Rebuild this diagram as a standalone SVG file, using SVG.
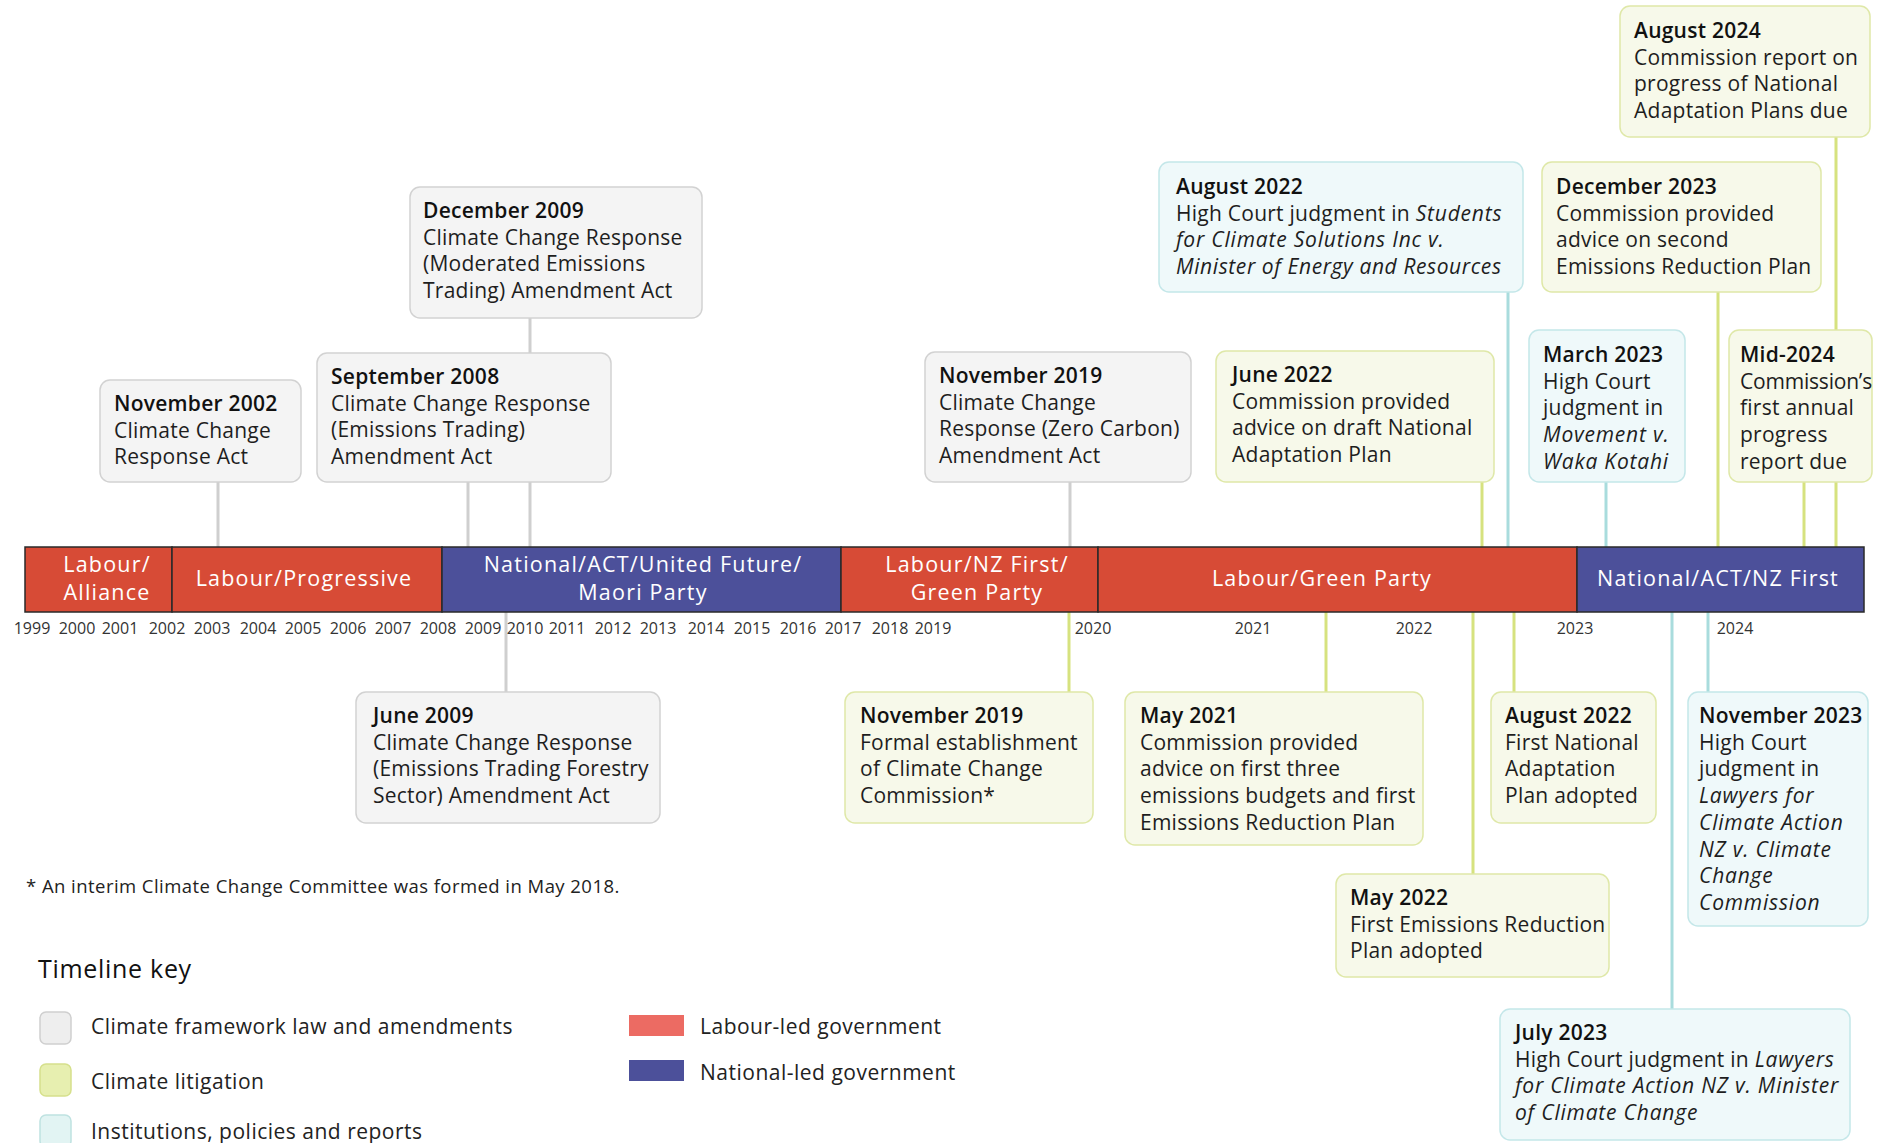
<svg xmlns="http://www.w3.org/2000/svg" width="1881" height="1143" viewBox="0 0 1881 1143">
<style>
.bg{fill:#ffffff}
.bx-g{fill:#f4f4f4;stroke:#d2d2d2;stroke-width:1.5}
.bx-l{fill:#f7f9ea;stroke:#dfe8a8;stroke-width:1.5}
.bx-c{fill:#eff9fa;stroke:#c4e7e9;stroke-width:1.5}
.t{font-family:"Open Sans","Liberation Sans",sans-serif;font-size:21px;letter-spacing:0.25px;fill:#1e1e1e}
.h{font-weight:600;fill:#111}
.i{font-style:italic;letter-spacing:0.8px}
.cn{stroke-width:3;fill:none}
.cg{stroke:#cfcfcf}
.cl{stroke:#d6e27f}
.cc{stroke:#a9dcdd}
.red{fill:#d74b36;stroke:#2a2a2a;stroke-width:1.5}
.blue{fill:#4c509a;stroke:#2a2a2a;stroke-width:1.5}
.bt{font-family:"Open Sans","Liberation Sans",sans-serif;font-size:21.5px;font-weight:500;fill:#ffffff;text-anchor:middle;letter-spacing:1.2px}
.yr{font-family:"Open Sans","Liberation Sans",sans-serif;font-size:16px;fill:#333;text-anchor:middle}
.lg{font-family:"Open Sans","Liberation Sans",sans-serif;font-size:21px;letter-spacing:0.5px;fill:#222}
</style>
<rect class="bg" x="0" y="0" width="1881" height="1143"/>

<g id="connectors">
<line class="cn cg" x1="218" y1="482" x2="218" y2="550"/>
<line class="cn cg" x1="468" y1="482" x2="468" y2="550"/>
<line class="cn cg" x1="530" y1="318" x2="530" y2="550"/>
<line class="cn cg" x1="1070" y1="482" x2="1070" y2="550"/>
<line class="cn cl" x1="1482" y1="482" x2="1482" y2="550"/>
<line class="cn cc" x1="1508" y1="292" x2="1508" y2="550"/>
<line class="cn cc" x1="1606" y1="482" x2="1606" y2="550"/>
<line class="cn cl" x1="1718" y1="292" x2="1718" y2="550"/>
<line class="cn cl" x1="1804" y1="482" x2="1804" y2="550"/>
<line class="cn cl" x1="1836" y1="137" x2="1836" y2="550"/>
<line class="cn cg" x1="506" y1="610" x2="506" y2="692"/>
<line class="cn cl" x1="1069" y1="610" x2="1069" y2="692"/>
<line class="cn cl" x1="1326" y1="610" x2="1326" y2="692"/>
<line class="cn cl" x1="1473" y1="610" x2="1473" y2="874"/>
<line class="cn cl" x1="1514" y1="610" x2="1514" y2="692"/>
<line class="cn cc" x1="1672" y1="610" x2="1672" y2="1009"/>
<line class="cn cc" x1="1708" y1="610" x2="1708" y2="692"/>
</g>

<g id="government-bar">
<rect class="red" x="25" y="547" width="147" height="65"/>
<rect class="red" x="172" y="547" width="270" height="65"/>
<rect class="blue" x="442" y="547" width="399" height="65"/>
<rect class="red" x="841" y="547" width="257" height="65"/>
<rect class="red" x="1098" y="547" width="479" height="65"/>
<rect class="blue" x="1577" y="547" width="287" height="65"/>
<text class="bt" x="107" y="572">Labour/</text>
<text class="bt" x="107" y="600">Alliance</text>
<text class="bt" x="304" y="586">Labour/Progressive</text>
<text class="bt" x="643" y="572">National/ACT/United Future/</text>
<text class="bt" x="643" y="600">Maori Party</text>
<text class="bt" x="977" y="572">Labour/NZ First/</text>
<text class="bt" x="977" y="600">Green Party</text>
<text class="bt" x="1322" y="586">Labour/Green Party</text>
<text class="bt" x="1718" y="586">National/ACT/NZ First</text>
</g>

<g id="years">
<text class="yr" x="32" y="634">1999</text>
<text class="yr" x="77" y="634">2000</text>
<text class="yr" x="120" y="634">2001</text>
<text class="yr" x="167" y="634">2002</text>
<text class="yr" x="212" y="634">2003</text>
<text class="yr" x="258" y="634">2004</text>
<text class="yr" x="303" y="634">2005</text>
<text class="yr" x="348" y="634">2006</text>
<text class="yr" x="393" y="634">2007</text>
<text class="yr" x="438" y="634">2008</text>
<text class="yr" x="483" y="634">2009</text>
<text class="yr" x="525" y="634">2010</text>
<text class="yr" x="567" y="634">2011</text>
<text class="yr" x="613" y="634">2012</text>
<text class="yr" x="658" y="634">2013</text>
<text class="yr" x="706" y="634">2014</text>
<text class="yr" x="752" y="634">2015</text>
<text class="yr" x="798" y="634">2016</text>
<text class="yr" x="843" y="634">2017</text>
<text class="yr" x="890" y="634">2018</text>
<text class="yr" x="933" y="634">2019</text>
<text class="yr" x="1093" y="634">2020</text>
<text class="yr" x="1253" y="634">2021</text>
<text class="yr" x="1414" y="634">2022</text>
<text class="yr" x="1575" y="634">2023</text>
<text class="yr" x="1735" y="634">2024</text>
</g>

<g id="nov2002">
<rect class="bx-g" x="100" y="380" width="201" height="102" rx="10"/>
<text class="t" x="114" y="411"><tspan class="h">November 2002</tspan><tspan x="114" dy="26.7">Climate Change</tspan><tspan x="114" dy="26.7">Response Act</tspan></text>
</g>
<g id="sep2008">
<rect class="bx-g" x="317" y="353" width="294" height="129" rx="10"/>
<text class="t" x="331" y="384"><tspan class="h">September 2008</tspan><tspan x="331" dy="26.7">Climate Change Response</tspan><tspan x="331" dy="26.7">(Emissions Trading)</tspan><tspan x="331" dy="26.7">Amendment Act</tspan></text>
</g>
<g id="dec2009">
<rect class="bx-g" x="410" y="187" width="292" height="131" rx="10"/>
<text class="t" x="423" y="218"><tspan class="h">December 2009</tspan><tspan x="423" dy="26.7">Climate Change Response</tspan><tspan x="423" dy="26.7">(Moderated Emissions</tspan><tspan x="423" dy="26.7">Trading) Amendment Act</tspan></text>
</g>
<g id="nov2019-act">
<rect class="bx-g" x="925" y="352" width="266" height="130" rx="10"/>
<text class="t" x="939" y="383"><tspan class="h">November 2019</tspan><tspan x="939" dy="26.7">Climate Change</tspan><tspan x="939" dy="26.7">Response (Zero Carbon)</tspan><tspan x="939" dy="26.7">Amendment Act</tspan></text>
</g>
<g id="jun2022">
<rect class="bx-l" x="1216" y="351" width="278" height="131" rx="10"/>
<text class="t" x="1232" y="382"><tspan class="h">June 2022</tspan><tspan x="1232" dy="26.7">Commission provided</tspan><tspan x="1232" dy="26.7">advice on draft National</tspan><tspan x="1232" dy="26.7">Adaptation Plan</tspan></text>
</g>
<g id="aug2022-students">
<rect class="bx-c" x="1159" y="162" width="364" height="130" rx="10"/>
<text class="t" x="1176" y="194"><tspan class="h">August 2022</tspan><tspan x="1176" dy="26.7">High Court judgment in </tspan><tspan class="i">Students</tspan><tspan class="i" x="1176" dy="26.7">for Climate Solutions Inc v.</tspan><tspan class="i" x="1176" dy="26.7" style="letter-spacing:0.6px">Minister of Energy and Resources</tspan></text>
</g>
<g id="dec2023">
<rect class="bx-l" x="1542" y="162" width="279" height="130" rx="10"/>
<text class="t" x="1556" y="194"><tspan class="h">December 2023</tspan><tspan x="1556" dy="26.7">Commission provided</tspan><tspan x="1556" dy="26.7">advice on second</tspan><tspan x="1556" dy="26.7">Emissions Reduction Plan</tspan></text>
</g>
<g id="aug2024">
<rect class="bx-l" x="1620" y="6" width="250" height="131" rx="10"/>
<text class="t" x="1634" y="38"><tspan class="h">August 2024</tspan><tspan x="1634" dy="26.7">Commission report on</tspan><tspan x="1634" dy="26.7">progress of National</tspan><tspan x="1634" dy="26.7">Adaptation Plans due</tspan></text>
</g>
<g id="mar2023">
<rect class="bx-c" x="1529" y="330" width="156" height="152" rx="10"/>
<text class="t" x="1543" y="362"><tspan class="h">March 2023</tspan><tspan x="1543" dy="26.7">High Court</tspan><tspan x="1543" dy="26.7">judgment in</tspan><tspan class="i" x="1543" dy="26.7">Movement v.</tspan><tspan class="i" x="1543" dy="26.7">Waka Kotahi</tspan></text>
</g>
<g id="mid2024">
<rect class="bx-l" x="1729" y="330" width="143" height="152" rx="10"/>
<text class="t" x="1740" y="362"><tspan class="h">Mid-2024</tspan><tspan x="1740" dy="26.7" style="letter-spacing:-0.2px">Commission’s</tspan><tspan x="1740" dy="26.7">first annual</tspan><tspan x="1740" dy="26.7">progress</tspan><tspan x="1740" dy="26.7">report due</tspan></text>
</g>
<g id="jun2009">
<rect class="bx-g" x="356" y="692" width="304" height="131" rx="10"/>
<text class="t" x="373" y="723"><tspan class="h">June 2009</tspan><tspan x="373" dy="26.7">Climate Change Response</tspan><tspan x="373" dy="26.7">(Emissions Trading Forestry</tspan><tspan x="373" dy="26.7">Sector) Amendment Act</tspan></text>
</g>
<g id="nov2019-commission">
<rect class="bx-l" x="845" y="692" width="248" height="131" rx="10"/>
<text class="t" x="860" y="723"><tspan class="h">November 2019</tspan><tspan x="860" dy="26.7">Formal establishment</tspan><tspan x="860" dy="26.7">of Climate Change</tspan><tspan x="860" dy="26.7">Commission*</tspan></text>
</g>
<g id="may2021">
<rect class="bx-l" x="1125" y="692" width="298" height="153" rx="10"/>
<text class="t" x="1140" y="723"><tspan class="h">May 2021</tspan><tspan x="1140" dy="26.7">Commission provided</tspan><tspan x="1140" dy="26.7">advice on first three</tspan><tspan x="1140" dy="26.7">emissions budgets and first</tspan><tspan x="1140" dy="26.7">Emissions Reduction Plan</tspan></text>
</g>
<g id="aug2022-nap">
<rect class="bx-l" x="1491" y="692" width="165" height="131" rx="10"/>
<text class="t" x="1505" y="723"><tspan class="h">August 2022</tspan><tspan x="1505" dy="26.7">First National</tspan><tspan x="1505" dy="26.7">Adaptation</tspan><tspan x="1505" dy="26.7">Plan adopted</tspan></text>
</g>
<g id="may2022">
<rect class="bx-l" x="1336" y="874" width="273" height="103" rx="10"/>
<text class="t" x="1350" y="905"><tspan class="h">May 2022</tspan><tspan x="1350" dy="26.7">First Emissions Reduction</tspan><tspan x="1350" dy="26.7">Plan adopted</tspan></text>
</g>
<g id="nov2023">
<rect class="bx-c" x="1688" y="692" width="180" height="234" rx="10"/>
<text class="t" x="1699" y="723"><tspan class="h">November 2023</tspan><tspan x="1699" dy="26.7">High Court</tspan><tspan x="1699" dy="26.7">judgment in</tspan><tspan class="i" x="1699" dy="26.7">Lawyers for</tspan><tspan class="i" x="1699" dy="26.7">Climate Action</tspan><tspan class="i" x="1699" dy="26.7">NZ v. Climate</tspan><tspan class="i" x="1699" dy="26.7">Change</tspan><tspan class="i" x="1699" dy="26.7">Commission</tspan></text>
</g>
<g id="jul2023">
<rect class="bx-c" x="1500" y="1009" width="350" height="131" rx="10"/>
<text class="t" x="1515" y="1040"><tspan class="h">July 2023</tspan><tspan x="1515" dy="26.7">High Court judgment in </tspan><tspan class="i">Lawyers</tspan><tspan class="i" x="1515" dy="26.7">for Climate Action NZ v. Minister</tspan><tspan class="i" x="1515" dy="26.7">of Climate Change</tspan></text>
</g>

<g id="footnote">
<text class="lg" x="26" y="893" style="font-size:18.5px;letter-spacing:0.45px">* An interim Climate Change Committee was formed in May 2018.</text>
</g>

<g id="legend">
<text class="lg" x="38" y="978" style="font-size:25px;font-weight:500;fill:#111;letter-spacing:0.7px">Timeline key</text>
<rect x="40" y="1012" width="31" height="32" rx="6" fill="#eeeeee" stroke="#cfcfcf" stroke-width="1.5"/>
<text class="lg" x="91" y="1034">Climate framework law and amendments</text>
<rect x="40" y="1064" width="31" height="32" rx="6" fill="#e7efb0" stroke="#d6e08c" stroke-width="1.5"/>
<text class="lg" x="91" y="1089">Climate litigation</text>
<rect x="40" y="1115" width="31" height="32" rx="6" fill="#e2f4f3" stroke="#bfe2e1" stroke-width="1.5"/>
<text class="lg" x="91" y="1139">Institutions, policies and reports</text>
<rect x="629" y="1015" width="55" height="21" fill="#ec6b63"/>
<text class="lg" x="700" y="1034">Labour-led government</text>
<rect x="629" y="1060" width="55" height="21" fill="#4c509a"/>
<text class="lg" x="700" y="1080">National-led government</text>
</g>
</svg>
